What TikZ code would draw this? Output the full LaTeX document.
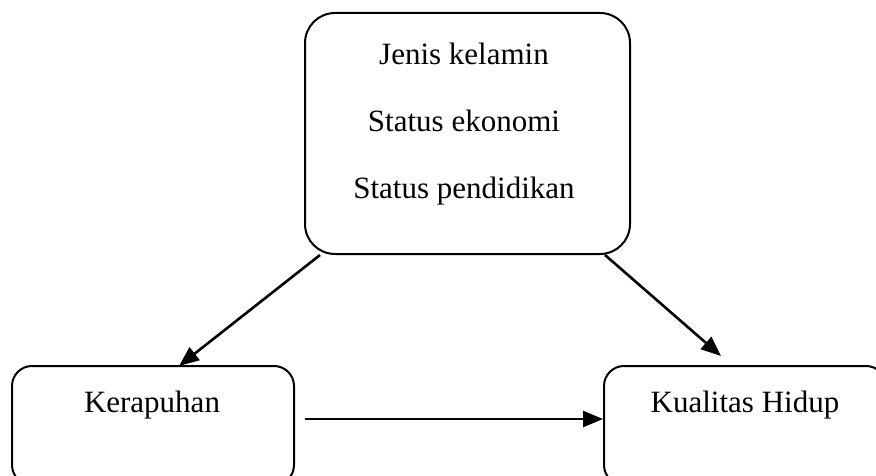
\documentclass[tikz,border=0pt]{standalone}
\usepackage{fontspec}
\setmainfont{Liberation Serif}
\usetikzlibrary{arrows.meta}
\begin{document}
\begin{tikzpicture}[x=1pt,y=-1pt,
  box/.style={draw,line width=2pt,rectangle,inner sep=0pt},
  lbl/.style={anchor=base,inner sep=0pt,font=\fontsize{31}{36}\selectfont},
  conn/.style={line width=2.6pt,-{Triangle[length=20pt,width=16pt]}}]
\useasboundingbox (0,0) rectangle (876,476);
% boxes
\node[box,rounded corners=30pt,minimum width=325pt,minimum height=241pt] (top) at (467.5,133.5) {};
\node[box,rounded corners=20pt,minimum width=282pt,minimum height=119pt] (kb) at (153,425.5) {};
\node[box,rounded corners=20pt,minimum width=282pt,minimum height=119pt] (qh) at (745,425.5) {};
% labels
\node[lbl] (t1) at (464,65) {Jenis kelamin};
\node[lbl] (t2) at (464,132) {Status ekonomi};
\node[lbl] (t3) at (464,198) {Status pendidikan};
\node[lbl] (t4) at (152,412) {Kerapuhan};
\node[lbl] (t5) at (745,412) {Kualitas Hidup};
% arrow ends
\coordinate (a1s) at (320,255);
\coordinate (a1e) at (179,366);
\coordinate (a2s) at (605,255);
\coordinate (a2e) at (721,356);
\coordinate (a3s) at (305,419);
\coordinate (a3e) at (qh.west |- a3s);
\draw[conn] (a1s) -- (a1e);
\draw[conn] (a2s) -- (a2e);
\draw[conn] (a3s) -- (a3e);
\end{tikzpicture}
\end{document}
